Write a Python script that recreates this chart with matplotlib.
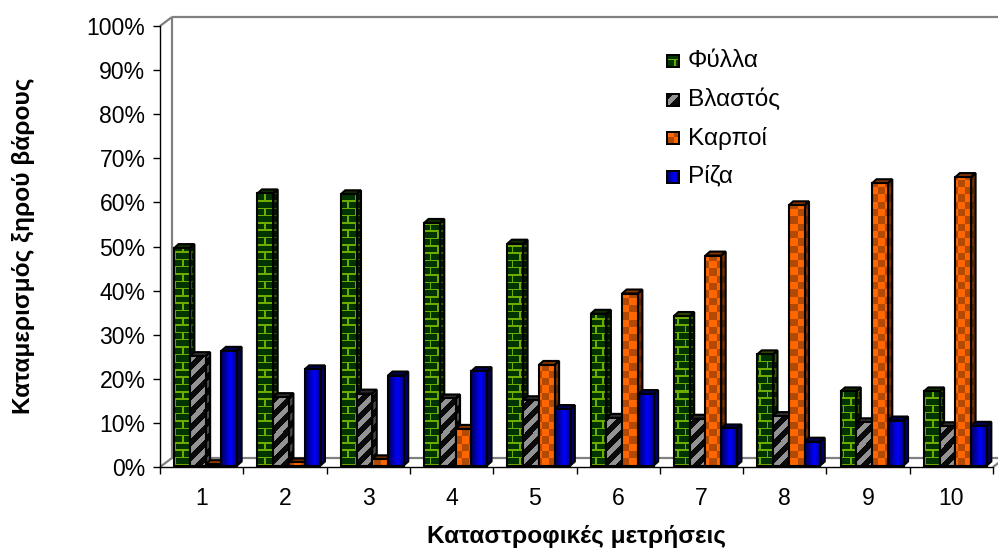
#!/usr/bin/env python3
# -*- coding: utf-8 -*-
"""Καταμερισμός ξηρού βάρους: ψευδο-3D στήλες τύπου Excel με μοτίβα γεμίσματος."""
import numpy as np
import matplotlib
matplotlib.use("Agg")
import matplotlib.pyplot as plt
from matplotlib.patches import Polygon
from matplotlib.transforms import Affine2D

CATEGORIES = ["1", "2", "3", "4", "5", "6", "7", "8", "9", "10"]
SERIES = ["Φύλλα", "Βλαστός", "Καρποί", "Ρίζα"]
FYLLA = [49.3, 61.7, 61.5, 55.0, 50.3, 34.4, 33.9, 25.2, 16.8, 16.8]
VLASTOS = [24.8, 15.5, 16.3, 15.2, 14.8, 10.8, 10.6, 11.2, 9.8, 8.9]
KARPOI = [0.3, 0.7, 1.4, 8.3, 22.8, 39.0, 47.6, 59.0, 64.0, 65.4]
RIZA = [26.0, 21.8, 20.4, 21.4, 12.8, 16.2, 8.4, 5.4, 10.2, 9.0]
YTICKS = list(range(0, 101, 10))

W, H = 998, 550
AX_L, AX_R, AX_T, AX_B = 160, 993, 26, 467   # πλαίσιο αξόνων σε pixels
BAR_PX = 15.75
DEPTH = (4.5, 4)                              # βάθος στήλης (dx, dy σε px)
BAR_SHIFT = (4.0, 1.5)                        # μετατόπιση στηλών από το μπροστινό επίπεδο
WALL = (12, 9)                                # βάθος τοίχου
GRAY = "#808080"

plt.rcParams["font.family"] = ["Liberation Sans", "DejaVu Sans"]


def tex_green(w, h, phase=0.0):
    a = np.zeros((h, w, 3)) + np.array([0, 52, 0]) / 255
    lime = np.array([112, 172, 0]) / 255
    for y in range(h):
        row = h - 1 - y  # μέτρηση από τη βάση
        if row % 7.3 < 1.5:
            a[y, :] = lime
            continue
        shift = 0 if row % 14.6 < 7.3 else 7.5
        for x in range(w):
            if (x + phase + shift) % 15 < 1.6:
                a[y, x] = lime
    return a


def tex_gray(w, h, phase=0.0):
    yy, xx = np.mgrid[0:h, 0:w]
    a = np.zeros((h, w, 3)) + 0.04
    a[(xx + yy + phase) % 15 < 7] = 0.58
    return a


def tex_orange(w, h, phase=0.0):
    yy, xx = np.mgrid[0:h, 0:w]
    a = np.zeros((h, w, 3)) + np.array([255, 102, 0]) / 255
    cx = ((xx + phase) // 7.3).astype(int)
    cy = ((h - 1 - yy) // 7.3).astype(int)
    a[(cx + cy) % 2 == 1] = np.array([178, 74, 5]) / 255
    return a


def tex_blue(w, h, phase=0.0):
    xx = np.linspace(0, 1, w)
    b = 0.35 + 0.65 * np.clip(1 - np.abs(xx - 0.6) / 0.6, 0, 1)
    a = np.zeros((h, w, 3))
    a[:, :, 2] = b
    return a


TEXTURES = [tex_green, tex_gray, tex_orange, tex_blue]
VALUES = [FYLLA, VLASTOS, KARPOI, RIZA]

fig = plt.figure(figsize=(W / 100, H / 100), dpi=100, facecolor="white")
ax = fig.add_axes([AX_L / W, 1 - AX_B / H, (AX_R - AX_L) / W, (AX_B - AX_T) / H])
ax.set_xlim(0.5, 10.5)
ax.set_ylim(0, 100)
ax.autoscale(False)

px_x = (AX_R - AX_L) / 10       # px ανά κατηγορία
px_y = (AX_B - AX_T) / 100      # px ανά %
bw = BAR_PX / px_x
ddx, ddy = DEPTH[0] / px_x, DEPTH[1] / px_y
shift = ax.transData + Affine2D().translate(*BAR_SHIFT)
wall = ax.transData + Affine2D().translate(*WALL)

# τοίχος και δάπεδο
line = dict(color=GRAY, lw=1.6, clip_on=False, solid_capstyle="butt")
ax.plot([0.5, 0.5], [0, 100], transform=wall, **line)
ax.plot([0.5, 10.7], [100, 100], transform=wall, **line)
ax.plot([0.5, 10.7], [0, 0], transform=wall, **line)
ax.plot([0.5, 0.5 + WALL[0] / px_x], [0, WALL[1] / px_y], **line)
ax.plot([0.5, 0.5 + WALL[0] / px_x], [100, 100 + WALL[1] / px_y], **line)
ax.plot([10.5, 10.5 + WALL[0] / px_x], [0, WALL[1] / px_y], **line)

EDGE = 1.5
zz = 5
xs = np.arange(1, len(CATEGORIES) + 1)
for j, (vals, tex) in enumerate(zip(VALUES, TEXTURES)):
    lefts = xs - 2 * bw + j * bw
    bars = ax.bar(lefts + bw / 2, vals, bw, facecolor="none", edgecolor="black", lw=EDGE,
                  transform=shift, clip_on=False, zorder=zz + 3)
    for i, (x, v) in enumerate(zip(lefts, vals)):
        h_px = max(int(round(v * px_y)), 1)
        phase = (x - lefts[0]) * px_x
        front = tex(16, h_px, phase)
        # πλαϊνή όψη
        side = Polygon([(x + bw, 0), (x + bw + ddx, ddy), (x + bw + ddx, v + ddy), (x + bw, v)],
                       closed=True, facecolor="none", edgecolor="black", lw=EDGE,
                       transform=shift, clip_on=False, zorder=zz + 2)
        ax.add_patch(side)
        sim = ax.imshow(tex(5, h_px + 4, phase) * 0.5, extent=(x + bw, x + bw + ddx, 0, v + ddy),
                        aspect="auto", interpolation="nearest", transform=shift, zorder=zz)
        sim.set_clip_path(side)
        # πάνω όψη
        top = Polygon([(x, v), (x + ddx, v + ddy), (x + bw + ddx, v + ddy), (x + bw, v)],
                      closed=True, facecolor=front[:, 3].mean(axis=0) * 0.6, edgecolor="black",
                      lw=EDGE, transform=shift, clip_on=False, zorder=zz + 1)
        ax.add_patch(top)
        ax.imshow(front, extent=(x, x + bw, 0, v), aspect="auto", interpolation="nearest",
                  transform=shift, clip_on=False, zorder=zz + 2)
    zz += 4
ax.set_xlim(0.5, 10.5)
ax.set_ylim(0, 100)

# άξονες
for s in ("top", "right"):
    ax.spines[s].set_visible(False)
for s in ("left", "bottom"):
    ax.spines[s].set_linewidth(1.0)
ax.patch.set_alpha(0)
ax.set_yticks(YTICKS)
ax.set_yticklabels([f"{t}%" for t in YTICKS], fontsize=16.6)
ax.set_xticks(np.arange(0.5, 11))
ax.set_xticklabels([])
ax.set_xticks(xs, CATEGORIES, minor=True, fontsize=16.6)
ax.tick_params(axis="x", which="major", length=5, width=1)
ax.tick_params(axis="x", which="minor", length=0, pad=14.5)
ax.tick_params(axis="y", length=5, width=1, pad=5.5)
fig.text((AX_L + AX_R) / 2 / W, 1 - 537 / H, "Καταστροφικές μετρήσεις", ha="center", va="center",
         fontsize=17.6, fontweight="bold")
fig.text(24 / W, 1 - 246 / H, "Καταμερισμός ξηρού βάρους", rotation=90, ha="center", va="center",
         fontsize=17.6, fontweight="bold")

# υπόμνημα
for i, (name, tex) in enumerate(zip(SERIES, TEXTURES)):
    yc = 61 + i * 38.5
    m = tex(14, 14, 7.5)
    m[[0, 1, -1, -2], :] = 0
    m[:, [0, 1, -1, -2]] = 0
    fig.figimage(m, xo=666, yo=int(H - yc - 7), origin="upper", zorder=20)
    fig.text(688 / W, 1 - yc / H, name, ha="left", va="center", fontsize=17.6)

fig.savefig("out.png", dpi=100, facecolor="white")
